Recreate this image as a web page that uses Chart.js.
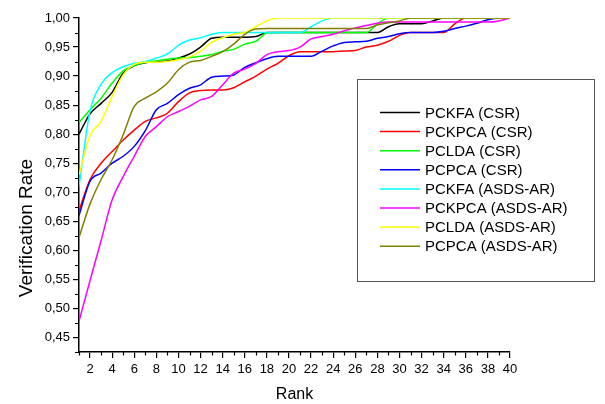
<!DOCTYPE html>
<html>
<head>
<meta charset="utf-8">
<script src="https://cdn.jsdelivr.net/npm/chart.js@4.4.1/dist/chart.umd.min.js"></script>
<style>
  html, body { margin: 0; padding: 0; background: #fff; }
  #wrap { width: 605px; height: 404px; }
</style>
</head>
<body>
<div id="wrap"><canvas id="myChart" width="605" height="404"></canvas></div>
<script>
// Rank axis
const ranks = [1, 2, 3, 4, 5, 6, 7, 8, 9, 10, 11, 12, 13, 14, 15, 16, 17, 18, 19, 20,
  21, 22, 23, 24, 25, 26, 27, 28, 29, 30, 31, 32, 33, 34, 35, 36, 37, 38, 39, 40];

const xTicks = [2, 4, 6, 8, 10, 12, 14, 16, 18, 20, 22, 24, 26, 28, 30, 32, 34, 36, 38, 40];
const yTicks = [0.45, 0.50, 0.55, 0.60, 0.65, 0.70, 0.75, 0.80, 0.85, 0.90, 0.95, 1.00];

const seriesNames = ["PCKFA (CSR)", "PCKPCA (CSR)", "PCLDA (CSR)", "PCPCA (CSR)",
  "PCKFA (ASDS-AR)", "PCKPCA (ASDS-AR)", "PCLDA (ASDS-AR)", "PCPCA (ASDS-AR)"];
const seriesColors = ["#000000", "#ff0000", "#00ff00", "#0000ff",
  "#00ffff", "#ff00ff", "#ffff00", "#808000"];

// verification rate per rank
const pckfaCsr = [0.800, 0.835, 0.853, 0.872, 0.905, 0.918, 0.923, 0.925, 0.926, 0.931,
  0.938, 0.950, 0.965, 0.967, 0.967, 0.967, 0.968, 0.975, 0.975, 0.975,
  0.975, 0.975, 0.975, 0.975, 0.975, 0.975, 0.975, 0.975, 0.985, 0.990,
  0.990, 0.990, 0.995, 1.000, 1.000, 1.000, 1.000, 1.000, 1.000, 1.000];
const pckpcaCsr = [0.668, 0.722, 0.750, 0.770, 0.790, 0.807, 0.822, 0.828, 0.836, 0.856,
  0.871, 0.875, 0.876, 0.876, 0.880, 0.890, 0.900, 0.912, 0.922, 0.935,
  0.942, 0.942, 0.942, 0.942, 0.943, 0.944, 0.950, 0.953, 0.960, 0.970,
  0.975, 0.975, 0.975, 0.975, 0.990, 1.000, 1.000, 1.000, 1.000, 1.000];
const pcldaCsr = [0.820, 0.842, 0.862, 0.888, 0.909, 0.918, 0.924, 0.926, 0.929, 0.931,
  0.932, 0.934, 0.937, 0.943, 0.946, 0.955, 0.960, 0.974, 0.975, 0.975,
  0.975, 0.975, 0.975, 0.975, 0.975, 0.975, 0.975, 0.990, 1.000, 1.000,
  1.000, 1.000, 1.000, 1.000, 1.000, 1.000, 1.000, 1.000, 1.000, 1.000];
const pcpcaCsr = [0.660, 0.719, 0.733, 0.750, 0.762, 0.779, 0.806, 0.842, 0.853, 0.868,
  0.879, 0.885, 0.898, 0.900, 0.902, 0.915, 0.923, 0.930, 0.934, 0.934,
  0.934, 0.934, 0.943, 0.952, 0.958, 0.959, 0.960, 0.965, 0.968, 0.973,
  0.975, 0.975, 0.975, 0.977, 0.982, 0.986, 0.991, 0.997, 1.000, 1.000];
const pckfaAsds = [0.710, 0.840, 0.886, 0.906, 0.916, 0.922, 0.925, 0.931, 0.938, 0.953,
  0.962, 0.966, 0.972, 0.975, 0.975, 0.975, 0.975, 0.975, 0.975, 0.975,
  0.975, 0.985, 0.995, 1.000, 1.000, 1.000, 1.000, 1.000, 1.000, 1.000,
  1.000, 1.000, 1.000, 1.000, 1.000, 1.000, 1.000, 1.000, 1.000, 1.000];
const pckpcaAsds = [0.478, 0.548, 0.617, 0.687, 0.727, 0.762, 0.796, 0.813, 0.830, 0.839,
  0.848, 0.859, 0.865, 0.885, 0.905, 0.912, 0.922, 0.937, 0.942, 0.944,
  0.950, 0.964, 0.968, 0.972, 0.978, 0.983, 0.987, 0.991, 0.993, 0.993,
  0.993, 0.993, 0.993, 0.993, 0.993, 0.993, 0.993, 0.993, 0.995, 1.000];
const pcldaAsds = [0.730, 0.798, 0.822, 0.865, 0.902, 0.920, 0.924, 0.924, 0.925, 0.928,
  0.933, 0.943, 0.958, 0.966, 0.972, 0.975, 0.985, 0.995, 1.000, 1.000,
  1.000, 1.000, 1.000, 1.000, 1.000, 1.000, 1.000, 1.000, 1.000, 1.000,
  1.000, 1.000, 1.000, 1.000, 1.000, 1.000, 1.000, 1.000, 1.000, 1.000];
const pcpcaAsds = [0.622, 0.680, 0.722, 0.756, 0.799, 0.848, 0.862, 0.873, 0.888, 0.911,
  0.924, 0.927, 0.934, 0.942, 0.955, 0.972, 0.981, 0.982, 0.982, 0.982,
  0.982, 0.982, 0.982, 0.982, 0.982, 0.982, 0.982, 0.988, 0.992, 0.995,
  1.000, 1.000, 1.000, 1.000, 1.000, 1.000, 1.000, 1.000, 1.000, 1.000];

const allSeries = [pckfaCsr, pckpcaCsr, pcldaCsr, pcpcaCsr,
  pckfaAsds, pckpcaAsds, pcldaAsds, pcpcaAsds];

const FONT = "'Liberation Sans', Arial, sans-serif";

// minor ticks, y title and the boxed legend inside the plot
const extrasPlugin = {
  id: 'extras',
  afterDraw(chart) {
    const ctx = chart.ctx;
    const xs = chart.scales.x;
    const ys = chart.scales.y;
    const area = chart.chartArea;
    ctx.save();
    ctx.strokeStyle = '#000';
    ctx.lineWidth = 1.2;
    ctx.beginPath();
    for (let r = 1; r <= 39; r += 2) {
      const px = Math.round(xs.getPixelForValue(r)) + 0.5;
      ctx.moveTo(px, area.bottom);
      ctx.lineTo(px, area.bottom + 3.5);
    }
    for (let i = 0; i < yTicks.length; i++) {
      const py = Math.round(ys.getPixelForValue(yTicks[i] - 0.025)) + 0.5;
      ctx.moveTo(area.left, py);
      ctx.lineTo(area.left - 4, py);
    }
    ctx.stroke();

    // y axis title (sits lower than the axis middle in the original)
    ctx.save();
    ctx.translate(27, 228);
    ctx.rotate(-Math.PI / 2);
    ctx.font = '19px ' + FONT;
    ctx.textAlign = 'center';
    ctx.textBaseline = 'middle';
    ctx.fillStyle = '#000';
    ctx.fillText('Verification Rate', 0, 0);
    ctx.restore();

    // legend box
    const bx = 357.5, by = 79.5, bw = 237, bh = 202;
    ctx.strokeStyle = '#555';
    ctx.lineWidth = 1;
    ctx.strokeRect(bx, by, bw, bh);
    ctx.font = '15px ' + FONT;
    ctx.textBaseline = 'middle';
    ctx.fillStyle = '#000';
    seriesNames.forEach((name, i) => {
      const ry = 112.5 + i * 19.1;
      ctx.strokeStyle = seriesColors[i];
      ctx.lineWidth = 1.5;
      ctx.beginPath();
      ctx.moveTo(380, ry);
      ctx.lineTo(420, ry);
      ctx.stroke();
      ctx.fillText(name, 425, ry + 1);
    });
    ctx.restore();
  }
};

const datasets = allSeries.map((vals, i) => ({
  label: seriesNames[i],
  data: vals,
  borderColor: seriesColors[i],
  backgroundColor: seriesColors[i],
  borderWidth: 1.5,
  pointRadius: 0,
  cubicInterpolationMode: 'monotone',
  fill: false,
  order: allSeries.length - i
}));

new Chart(document.getElementById('myChart').getContext('2d'), {
  type: 'line',
  data: { labels: ranks, datasets: datasets },
  options: {
    responsive: false,
    devicePixelRatio: 1,
    animation: false,
    layout: { padding: { top: 18, right: 95, left: 0, bottom: 0 } },
    plugins: {
      legend: { display: false },
      tooltip: { enabled: false }
    },
    scales: {
      x: {
        type: 'linear',
        min: 1,
        max: 40,
        afterBuildTicks: s => { s.ticks = xTicks.map(v => ({ value: v })); },
        afterFit: s => { s.height = 52; },
        grid: { drawOnChartArea: false, drawTicks: true, tickLength: 6, color: '#000', lineWidth: 1.2 },
        border: { display: true, color: '#000', width: 1.5 },
        ticks: { color: '#000', font: { family: FONT, size: 13 }, padding: 4, maxRotation: 0, autoSkip: false },
        title: { display: true, text: 'Rank', color: '#000', font: { family: FONT, size: 16 }, padding: { top: 6, bottom: 0 } }
      },
      y: {
        type: 'linear',
        min: 0.425,
        max: 1.0,
        afterBuildTicks: s => { s.ticks = yTicks.map(v => ({ value: v })); },
        afterFit: s => { s.width = 79; },
        grid: { drawOnChartArea: false, drawTicks: true, tickLength: 6, color: '#000', lineWidth: 1.2 },
        border: { display: true, color: '#000', width: 1.5 },
        ticks: {
          color: '#000', font: { family: FONT, size: 13 }, padding: 3, autoSkip: false,
          callback: v => v.toFixed(2).replace('.', ',')
        },
        title: { display: false }
      }
    }
  },
  plugins: [extrasPlugin]
});
</script>
</body>
</html>
